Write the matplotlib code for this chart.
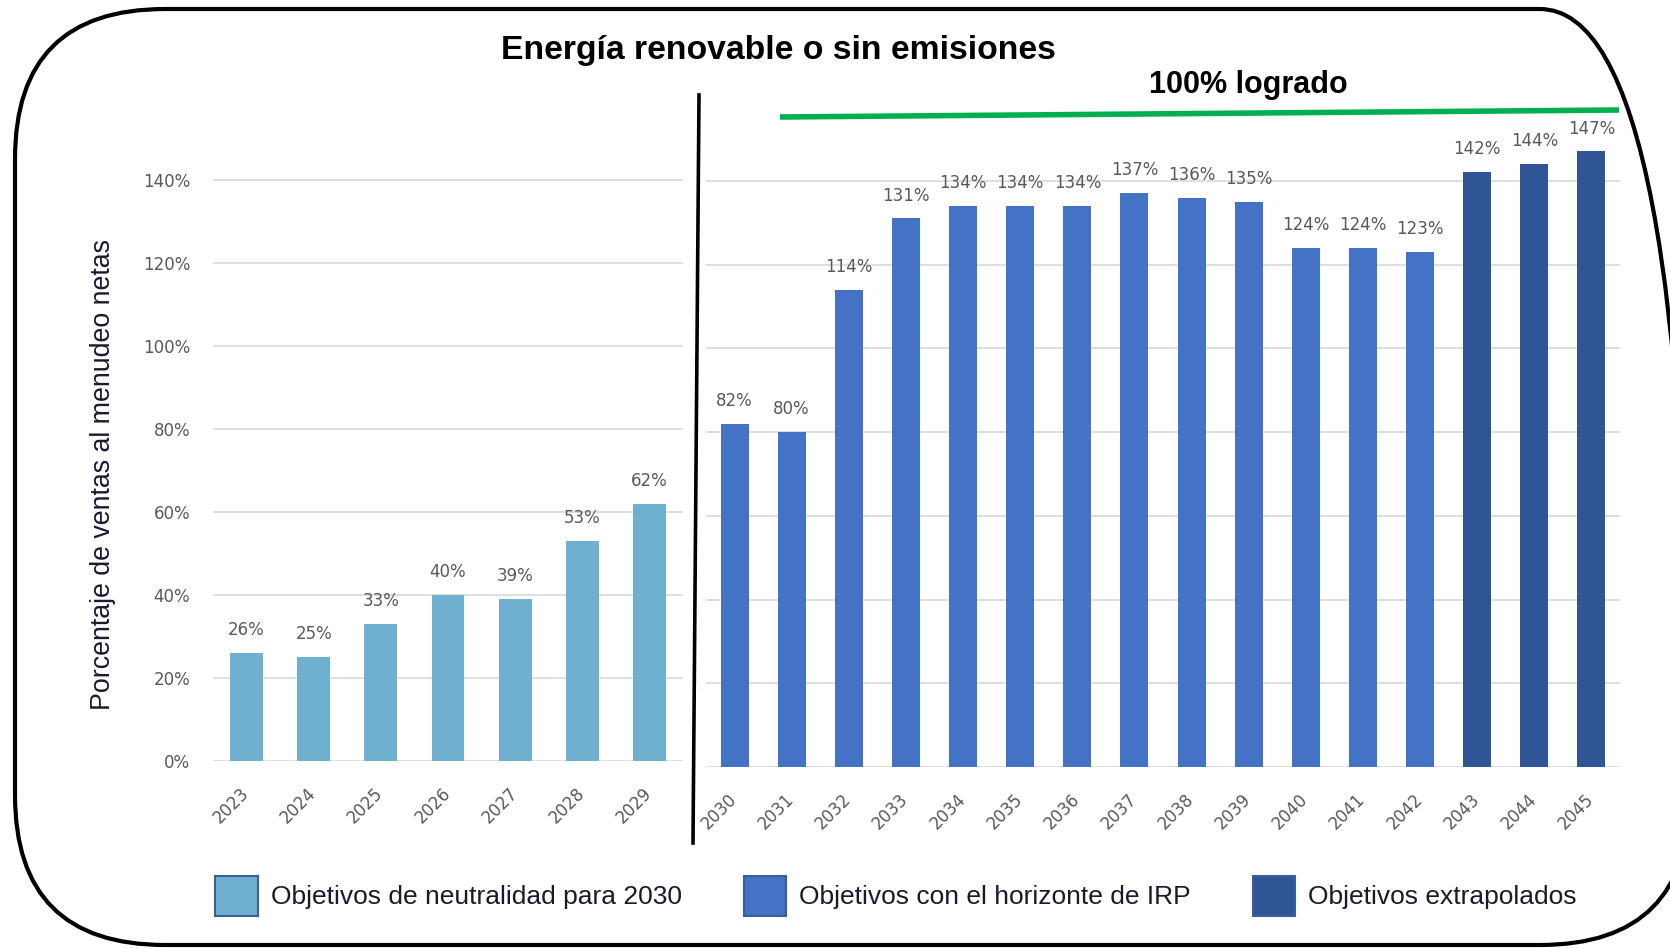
import numpy as np
import matplotlib
matplotlib.use("Agg")
import matplotlib.pyplot as plt
from matplotlib.patches import Patch, FancyBboxPatch
from matplotlib.lines import Line2D
from matplotlib.transforms import ScaledTranslation

# data
years_a = ["2023", "2024", "2025", "2026", "2027", "2028", "2029"]
vals_a = [26, 25, 33, 40, 39, 53, 62]
years_b = ["2030", "2031", "2032", "2033", "2034", "2035", "2036", "2037",
           "2038", "2039", "2040", "2041", "2042", "2043", "2044", "2045"]
vals_b = [82, 80, 114, 131, 134, 134, 134, 137, 136, 135, 124, 124, 123, 142, 144, 147]
n_extrap = 3   # last three are extrapolated
yticks = [0, 20, 40, 60, 80, 100, 120, 140]
legend_labels = ["Objetivos de neutralidad para 2030",
                 "Objetivos con el horizonte de IRP",
                 "Objetivos extrapolados"]

c_light = "#6fafcf"
c_mid = "#4472c4"
c_dark = "#2f5597"
c_edge = "#3a5f9e"
grey = "#595959"
ink = "#1a1a2e"

W, H = 1670, 948
fig = plt.figure(figsize=(W / 100, H / 100), dpi=100)


def px_axes(x0, x1, ybot, ytop):
    # pixel box (top-origin) -> figure fraction
    return [x0 / W, 1 - ybot / H, (x1 - x0) / W, (ybot - ytop) / H]


ax1 = fig.add_axes(px_axes(213, 683, 761, 97))
ax2 = fig.add_axes(px_axes(706, 1620, 767, 97))

colors_b = [c_mid] * (len(vals_b) - n_extrap) + [c_dark] * n_extrap

for ax, yrs, vals, cols in [(ax1, years_a, vals_a, [c_light] * len(vals_a)),
                            (ax2, years_b, vals_b, colors_b)]:
    x = np.arange(len(yrs))
    bars = ax.bar(x, vals, width=0.49, color=cols, zorder=3)
    for xi, v in zip(x, vals):
        ax.annotate(f"{v}%", (xi, v), xytext=(0, 16.5), textcoords="offset points",
                    ha="center", va="center", fontsize=12, color=grey)
    ax.set_xlim(-0.5, len(yrs) - 0.5)
    ax.set_ylim(0, 160)
    ax.set_yticks(yticks)
    ax.grid(axis="y", color="#d9d9d9", lw=1.2, zorder=0)
    for s in ax.spines.values():
        s.set_visible(False)
    ax.tick_params(axis="both", length=0, colors=grey, labelsize=12)
    ax.tick_params(axis="x", pad=17)
    ax.set_xticks(x)
    ax.set_xticklabels(yrs, rotation=45, ha="right", va="top")
    off = ScaledTranslation(6 / 100, 0, fig.dpi_scale_trans)
    for lab in ax.get_xticklabels():
        lab.set_transform(lab.get_transform() + off)

ax1.set_yticklabels([f"{t}%" for t in yticks])
ax1.tick_params(axis="y", pad=16.5)
ax2.set_yticklabels([])

fig.text(103 / W, 1 - 474 / H, "Porcentaje de ventas al menudeo netas", rotation=90,
         ha="center", va="center", fontsize=19.3, color=ink, family="Liberation Sans")

# titles
fig.text(778 / W, 1 - 50 / H, "Energía renovable o sin emisiones", ha="center", va="center",
         fontsize=24.3, fontweight="bold", family="Liberation Sans")
fig.text(1248 / W, 1 - 85 / H, "100% logrado", ha="center", va="center",
         fontsize=22, fontweight="bold", family="Liberation Sans")

# green 100% line and black divider
fig.add_artist(Line2D([780 / W, 1619 / W], [1 - 117 / H, 1 - 110 / H], color="#00b050",
                      lw=4, solid_capstyle="butt", transform=fig.transFigure))
fig.add_artist(Line2D([699 / W, 693 / W], [1 - 95 / H, 1 - 843 / H], color="black",
                      lw=2.6, transform=fig.transFigure))

# rounded frame
frame = FancyBboxPatch((0.15, 0.03), 16.75, 9.36, boxstyle="round,pad=0,rounding_size=1.5",
                       transform=fig.dpi_scale_trans, fill=False, ec="black", lw=3,
                       clip_on=False)
fig.add_artist(frame)

handles = [Patch(facecolor=c, edgecolor=c_edge, lw=1.5) for c in (c_light, c_mid, c_dark)]
fig.legend(handles, legend_labels, loc="center", bbox_to_anchor=(896 / W, 1 - 896 / H),
           ncol=3, frameon=False, prop={"family": "Liberation Sans", "size": 19},
           handlelength=1.6, handleheight=1.9, handletextpad=0.5, columnspacing=2.35,
           labelcolor=ink)

fig.savefig("out.png", dpi=100)
